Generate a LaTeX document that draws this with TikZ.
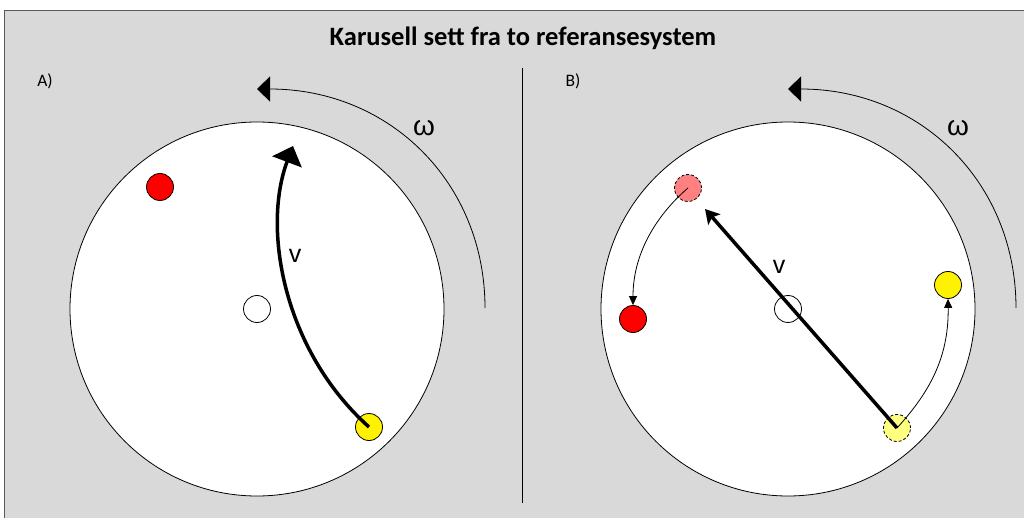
\documentclass[tikz,border=0pt]{standalone}
\usepackage{fontspec}
\setmainfont{Carlito}
\newfontfamily\symfont{Liberation Sans}
\usetikzlibrary{arrows.meta}
\definecolor{bg}{HTML}{D9D9D9}
\definecolor{fadedred}{HTML}{FF8080}
\definecolor{fadedyellow}{HTML}{FFFF80}
\tikzset{
  disk/.style={circle, draw=black, line width=0.8pt, fill=white, minimum size=374pt, inner sep=0pt},
  ball/.style={circle, draw=black, line width=0.8pt, minimum size=27pt, inner sep=0pt},
  ghost/.style={ball, dash pattern=on 3pt off 2pt},
  omegaarc/.style={line width=0.8pt, -{Triangle[length=13pt,width=25pt]}},
  thickarrow/.style={line width=3.5pt},
  thinarrow/.style={line width=0.8pt, -{Triangle[length=9pt,width=8pt]}},
  lbl/.style={font=\fontsize{17.5}{20}\selectfont},
  greek/.style={font=\symfont\fontsize{28}{30}\selectfont},
  vel/.style={font=\symfont\fontsize{25}{28}\selectfont}
}
\begin{document}
\begin{tikzpicture}[x=1pt,y=-1pt]
\useasboundingbox (0,0) rectangle (1024,518);
\fill[bg] (4,11) rectangle (1024,518);
\draw[line width=1pt, gray!70!black] (4,518) -- (4,11) -- (1024,11);
\node[font=\bfseries\fontsize{26.5}{30}\selectfont] (title) at (523,38) {Karusell sett fra to referansesystem};
\coordinate (divtop) at (522,68);
\coordinate (divbot) at (522,503);
\draw[line width=0.8pt] (divtop) -- (divbot);

% ---------- A ----------
\node[lbl] (la) at (45,81) {A)};
\node[disk] (diskA) at (257,309) {};
\node[ball, fill=white] (centA) at (257,309) {};
\node[ball, fill=red] (redA) at (160,187) {};
\node[ball, fill=yellow] (yelA) at (369,427) {};
\coordinate (omegaAstart) at (485,308);
\coordinate (omegaAend) at (257,89);
\draw[omegaarc] (omegaAstart) .. controls (485,183) and (390,89) .. (omegaAend);
\node[greek] (wA) at (424,128) {ω};
\coordinate (vAend) at (293,146);
\draw[thickarrow, -{Triangle[length=17pt,width=31pt]}] (yelA.center) .. controls (283,350) and (262,228) .. (vAend);
\node[vel] (vA) at (295,256) {v};

% ---------- B ----------
\node[lbl] (lb) at (573,81) {B)};
\node[disk] (diskB) at (788,309) {};
\node[ball, fill=white] (centB) at (788,309) {};
\node[ghost, fill=fadedred] (pinkB) at (688,188) {};
\node[ball, fill=red] (redB) at (633,319) {};
\node[ball, fill=yellow] (yelB) at (948,285) {};
\node[ghost, fill=fadedyellow] (fyelB) at (897,428) {};
\coordinate (omegaBstart) at (1016,308);
\coordinate (omegaBend) at (788,89);
\draw[omegaarc] (omegaBstart) .. controls (1016,183) and (921,89) .. (omegaBend);
\node[greek] (wB) at (958,128) {ω};
\coordinate (vBend) at (705,209);
\draw[thickarrow, -{Stealth[length=14pt,width=16pt,inset=3pt]}] (fyelB.center) -- (vBend);
\node[vel] (vB) at (779,267) {v};
\draw[thinarrow] (pinkB.center) .. controls (660,212) and (633,250) .. (redB.north);
\draw[thinarrow] (fyelB.center) .. controls (927,395) and (949,360) .. (yelB.south);
\end{tikzpicture}
\end{document}
